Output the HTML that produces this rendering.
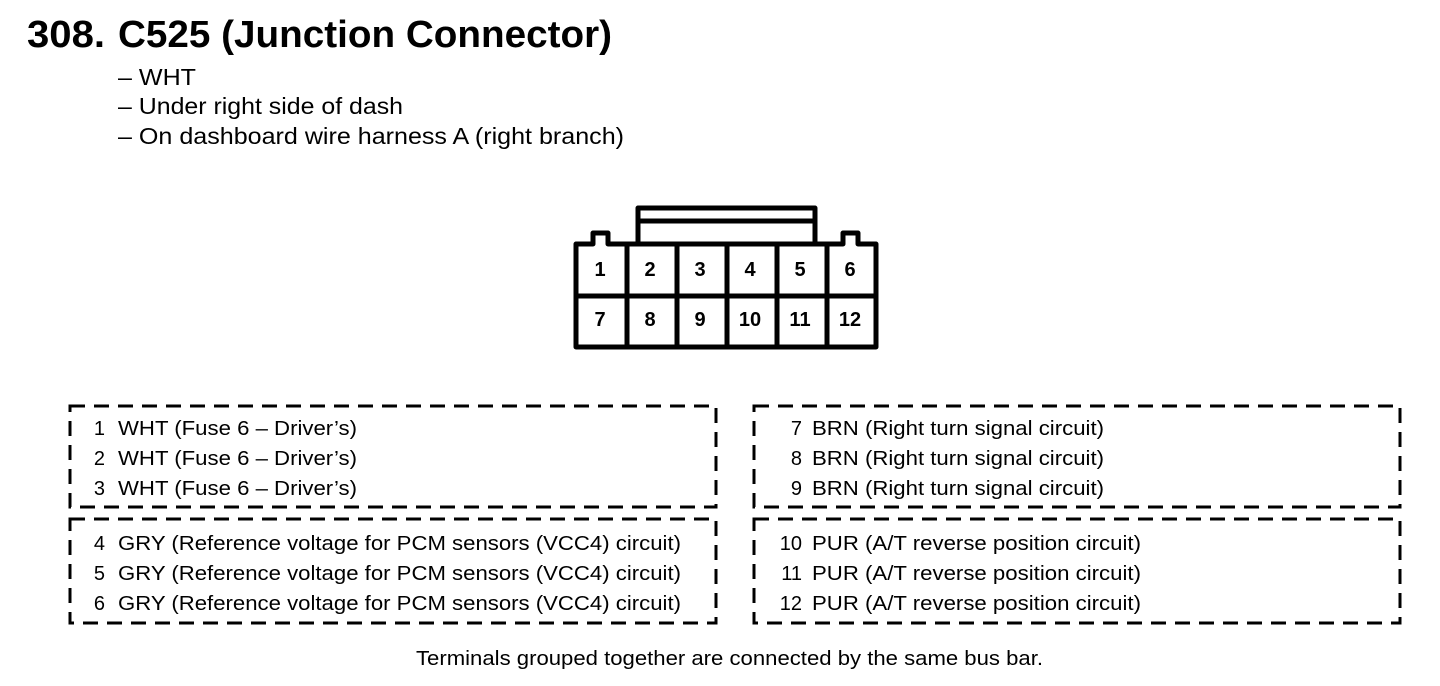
<!DOCTYPE html>
<html><head><meta charset="utf-8"><style>
html,body{margin:0;padding:0;background:#fff;}
svg{display:block;}
text{font-family:"Liberation Sans",Arial,sans-serif;fill:#000;}
</style></head><body>
<svg width="1440" height="686" viewBox="0 0 1440 686" xmlns="http://www.w3.org/2000/svg">
<text x="27" y="47" font-size="38" font-weight="bold" textLength="78" lengthAdjust="spacingAndGlyphs">308.</text>
<text x="118" y="47" font-size="38" font-weight="bold" textLength="494" lengthAdjust="spacingAndGlyphs">C525 (Junction Connector)</text>
<text x="118" y="85" font-size="23" textLength="78" lengthAdjust="spacingAndGlyphs">– WHT</text>
<text x="118" y="114" font-size="23" textLength="285" lengthAdjust="spacingAndGlyphs">– Under right side of dash</text>
<text x="118" y="144" font-size="23" textLength="506" lengthAdjust="spacingAndGlyphs">– On dashboard wire harness A (right branch)</text>

<g fill="none" stroke="#000" stroke-width="5" stroke-linejoin="round">
<rect x="638" y="208" width="177" height="37"/>
<line x1="638" y1="221" x2="815" y2="221"/>
<path d="M576 244 H593 V233 H608 V244 H843 V233 H858 V244 H876 V347 H576 Z" fill="#fff"/>
<line x1="576" y1="296" x2="876" y2="296"/>
<line x1="627" y1="244" x2="627" y2="347"/>
<line x1="677" y1="244" x2="677" y2="347"/>
<line x1="727" y1="244" x2="727" y2="347"/>
<line x1="777" y1="244" x2="777" y2="347"/>
<line x1="827" y1="244" x2="827" y2="347"/>
</g>
<g font-size="20" font-weight="bold" text-anchor="middle">
<text x="600" y="276">1</text><text x="650" y="276">2</text><text x="700" y="276">3</text><text x="750" y="276">4</text><text x="800" y="276">5</text><text x="850" y="276">6</text>
<text x="600" y="326">7</text><text x="650" y="326">8</text><text x="700" y="326">9</text><text x="750" y="326">10</text><text x="800" y="326">11</text><text x="850" y="326">12</text>
</g>

<g fill="none" stroke="#000" stroke-width="3" stroke-dasharray="15 9">
<rect x="70" y="406" width="646" height="101"/>
<rect x="70" y="519" width="646" height="104"/>
<rect x="754" y="406" width="646" height="101"/>
<rect x="754" y="519" width="646" height="104"/>
</g>
<g font-size="20" text-anchor="end">
<text x="105" y="435">1</text><text x="105" y="465">2</text><text x="105" y="495">3</text>
<text x="105" y="550">4</text><text x="105" y="580">5</text><text x="105" y="610">6</text>
<text x="802" y="435">7</text><text x="802" y="465">8</text><text x="802" y="495">9</text>
<text x="802" y="550">10</text><text x="802" y="580">11</text><text x="802" y="610">12</text>
</g>
<g font-size="20">
<text x="118" y="435" textLength="239" lengthAdjust="spacingAndGlyphs">WHT (Fuse 6 – Driver’s)</text>
<text x="118" y="465" textLength="239" lengthAdjust="spacingAndGlyphs">WHT (Fuse 6 – Driver’s)</text>
<text x="118" y="495" textLength="239" lengthAdjust="spacingAndGlyphs">WHT (Fuse 6 – Driver’s)</text>
<text x="118" y="550" textLength="563" lengthAdjust="spacingAndGlyphs">GRY (Reference voltage for PCM sensors (VCC4) circuit)</text>
<text x="118" y="580" textLength="563" lengthAdjust="spacingAndGlyphs">GRY (Reference voltage for PCM sensors (VCC4) circuit)</text>
<text x="118" y="610" textLength="563" lengthAdjust="spacingAndGlyphs">GRY (Reference voltage for PCM sensors (VCC4) circuit)</text>
<text x="812" y="435" textLength="292" lengthAdjust="spacingAndGlyphs">BRN (Right turn signal circuit)</text>
<text x="812" y="465" textLength="292" lengthAdjust="spacingAndGlyphs">BRN (Right turn signal circuit)</text>
<text x="812" y="495" textLength="292" lengthAdjust="spacingAndGlyphs">BRN (Right turn signal circuit)</text>
<text x="812" y="550" textLength="329" lengthAdjust="spacingAndGlyphs">PUR (A/T reverse position circuit)</text>
<text x="812" y="580" textLength="329" lengthAdjust="spacingAndGlyphs">PUR (A/T reverse position circuit)</text>
<text x="812" y="610" textLength="329" lengthAdjust="spacingAndGlyphs">PUR (A/T reverse position circuit)</text>
<text x="416" y="665" textLength="627" lengthAdjust="spacingAndGlyphs">Terminals grouped together are connected by the same bus bar.</text>
</g>
</svg>
</body></html>
